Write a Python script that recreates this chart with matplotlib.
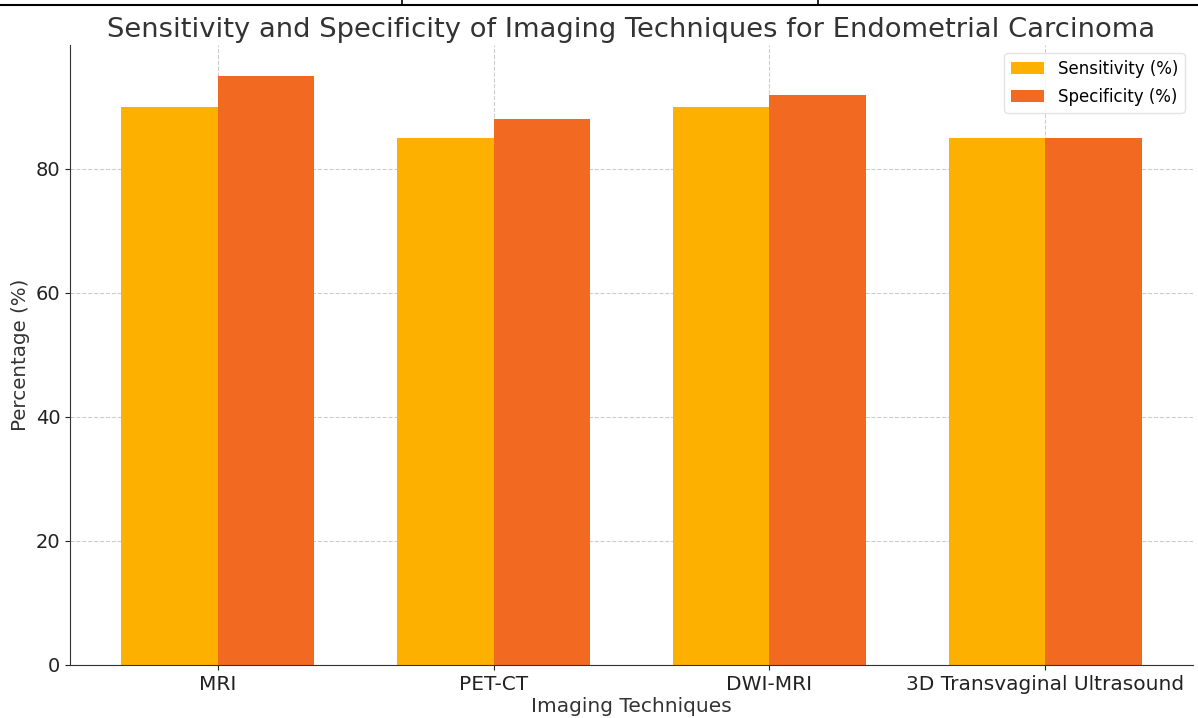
import matplotlib
matplotlib.use("Agg")
import matplotlib.pyplot as plt
import numpy as np
from matplotlib.lines import Line2D

techniques = ["MRI", "PET-CT", "DWI-MRI", "3D Transvaginal Ultrasound"]
sensitivity = [90, 85, 90, 85]
specificity = [95, 88, 92, 85]

fig = plt.figure(figsize=(11.98, 7.18), dpi=100)
ax = fig.add_axes([70/1198, 1-665/718, (1193-70)/1198, (665-45)/718])

x = np.arange(len(techniques))
w = 0.35
ax.bar(x - w/2, sensitivity, w, color="#FDB000", label="Sensitivity (%)", zorder=2)
ax.bar(x + w/2, specificity, w, color="#F26A22", label="Specificity (%)", zorder=2)

ax.set_ylim(0, 100)
ax.set_xticks(x)
ax.set_xticklabels(techniques, fontsize=14.5, color="#222222")
ax.set_yticks([0, 20, 40, 60, 80])
ax.tick_params(axis="y", labelsize=14, colors="#222222")
ax.tick_params(axis="x", colors="#222222")
ax.grid(True, linestyle="--", color="#cccccc", linewidth=0.8, zorder=0)
ax.set_axisbelow(True)
for s in ["top", "right"]:
    ax.spines[s].set_visible(False)
for s in ["left", "bottom"]:
    ax.spines[s].set_color("#333333")

ax.set_xlabel("Imaging Techniques", fontsize=14.5, color="#333333", labelpad=2)
ax.set_ylabel("Percentage (%)", fontsize=14.3, color="#333333")
ax.set_title("Sensitivity and Specificity of Imaging Techniques for Endometrial Carcinoma",
             fontsize=19.7, color="#333333", pad=6)
ax.legend(loc="upper right", fontsize=12, frameon=True, edgecolor="#dddddd",
          labelspacing=0.6)

# top border artifact
fig.add_artist(Line2D([0, 1], [1-5/718, 1-5/718], color="black", linewidth=1.5, transform=fig.transFigure))
for xp in [402, 818]:
    fig.add_artist(Line2D([xp/1198, xp/1198], [1-5/718, 1], color="black", linewidth=1.2, transform=fig.transFigure))

fig.savefig("out.png", dpi=100)
